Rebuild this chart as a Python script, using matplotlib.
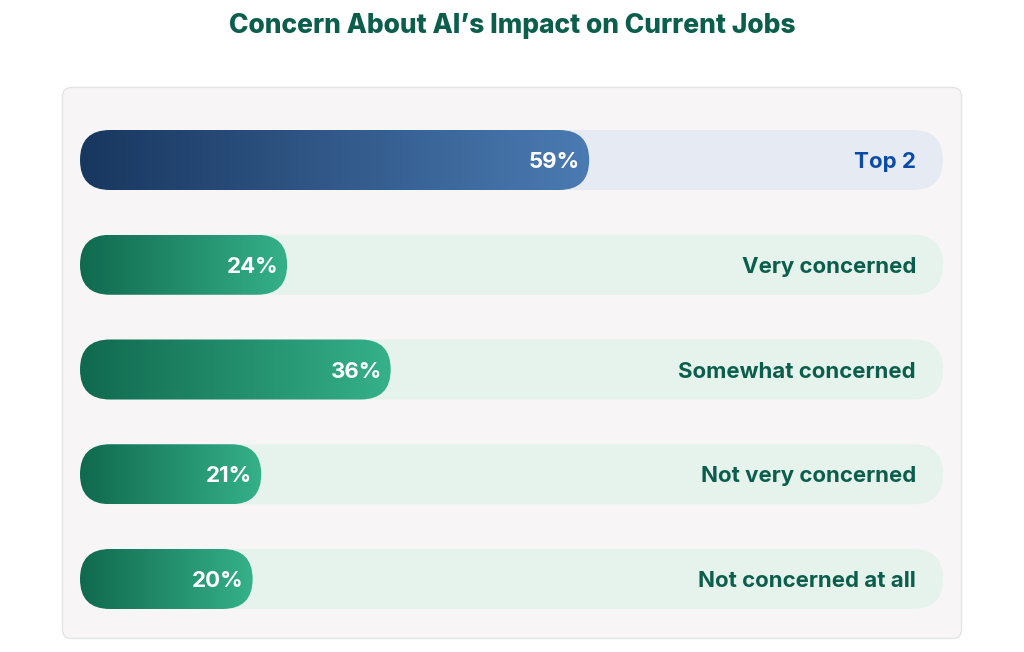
import numpy as np
import matplotlib
matplotlib.use("Agg")
import matplotlib.pyplot as plt
from matplotlib.patches import FancyBboxPatch
from matplotlib.colors import LinearSegmentedColormap

plt.rcParams["font.family"] = ["Inter", "DejaVu Sans"]

title = "Concern About AI\u2019s Impact on Current Jobs"
categories = ["Top 2", "Very concerned", "Somewhat concerned",
              "Not very concerned", "Not concerned at all"]
values = [59, 24, 36, 21, 20]

W, H = 1024, 652
fig = plt.figure(figsize=(W / 100, H / 100), dpi=100)
fig.patch.set_facecolor("white")

# background layer in pixel coords: panel + title
bg = fig.add_axes([0, 0, 1, 1])
bg.set_xlim(0, W)
bg.set_ylim(H, 0)
bg.axis("off")
bg.add_patch(FancyBboxPatch((62.5, 87.5), 899, 551,
                            boxstyle="round,pad=0,rounding_size=9",
                            facecolor="#f7f5f6", edgecolor="#e4e4e4", lw=1))
bg.text(W / 2, 26, title, ha="center", va="center", fontsize=19,
        fontweight="heavy", color="#0b5e4c")

# bar layer: x in percent, one row per category
x0, x1, ytop, ybot = 80, 943, 130, 609
ax = fig.add_axes([x0 / W, 1 - ybot / H, (x1 - x0) / W, (ybot - ytop) / H])
ax.axis("off")
n = len(categories)
bar_h = 60 / ((ybot - ytop - 60) / (n - 1))
ax.set_xlim(0, 100)
ax.set_ylim(n - 1 + bar_h / 2, -bar_h / 2)

px_x = 100 / (x1 - x0)                  # percent per pixel
px_y = (n - 1 + bar_h) / (ybot - ytop)  # row units per pixel
aspect = px_y / px_x
r = 30 * px_x
dy = 2 * px_y  # small nudge down for text

blue = LinearSegmentedColormap.from_list("b", ["#18375f", "#4b7bb3"])
green = LinearSegmentedColormap.from_list("g", ["#10694e", "#35b189"])
grad = np.linspace(0, 1, 256).reshape(1, -1)

for i, (cat, v) in enumerate(zip(categories, values)):
    top = i == 0
    track = "#e6ebf3" if top else "#e5f3ec"
    ax.add_patch(FancyBboxPatch((0, i - bar_h / 2), 100, bar_h,
                                boxstyle=f"round,pad=0,rounding_size={r}",
                                mutation_aspect=aspect, facecolor=track,
                                edgecolor="none"))
    bar = FancyBboxPatch((0, i - bar_h / 2), v, bar_h,
                         boxstyle=f"round,pad=0,rounding_size={r}",
                         mutation_aspect=aspect, facecolor="none",
                         edgecolor="none")
    ax.add_patch(bar)
    im = ax.imshow(grad, cmap=blue if top else green, aspect="auto",
                   extent=(0, v, i + bar_h / 2, i - bar_h / 2),
                   interpolation="bicubic", zorder=2)
    im.set_clip_path(bar)
    ax.text(v - 9 * px_x, i + dy, f"{v}%", ha="right", va="center",
            fontsize=16, fontweight="bold", color="white", zorder=3)
    ax.text(100 - 27 * px_x, i + dy, cat, ha="right", va="center",
            fontsize=16, fontweight="bold",
            color="#0a4ba8" if top else "#0b5e4c", zorder=3)

fig.savefig("out.png", dpi=100)
